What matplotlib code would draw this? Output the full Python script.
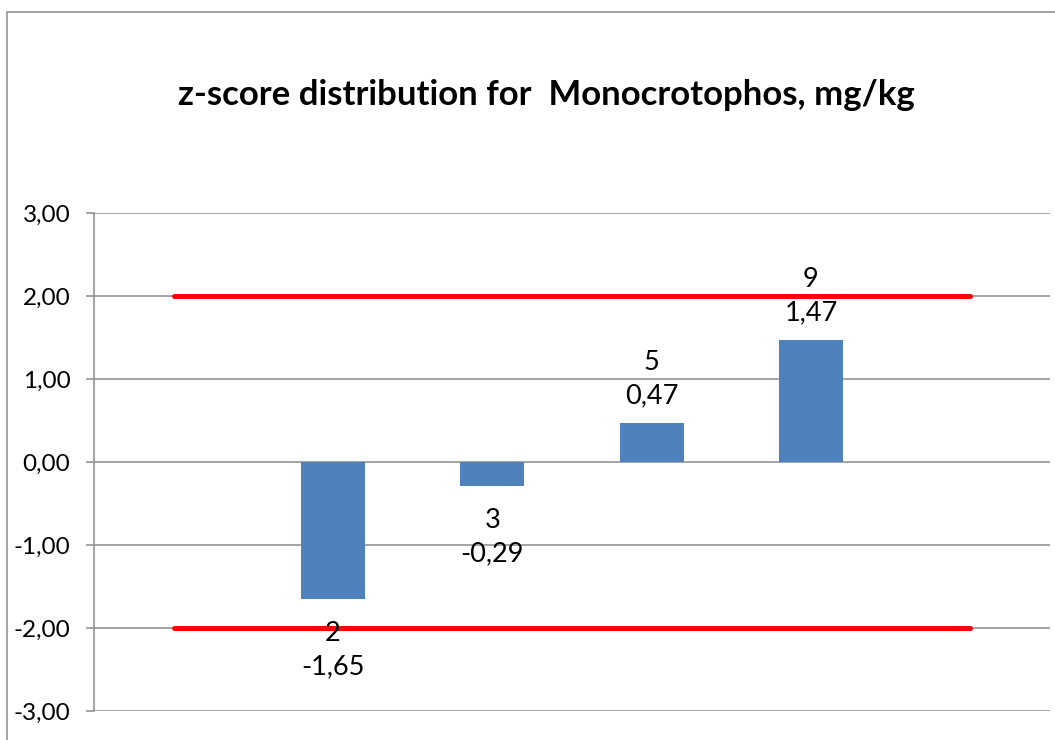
import matplotlib.pyplot as plt
import matplotlib.patches as mpatches
import numpy as np

plt.rcParams['font.family'] = ['Lato', 'DejaVu Sans']

# six category slots, the labs sit in the middle four
categories = ['', '2', '3', '5', '9', '']
z_scores = [np.nan, -1.65, -0.29, 0.47, 1.47, np.nan]
upper_limit = [2, 2, 2, 2, 2, 2]
lower_limit = [-2, -2, -2, -2, -2, -2]
y_ticks = [-3, -2, -1, 0, 1, 2, 3]

TITLE = 'z-score distribution for  Monocrotophos, mg/kg'
BAR_COLOR = '#4F81BD'
GRID_COLOR = '#8C8C8C'


def comma(v):
    return f'{v:.2f}'.replace('.', ',')


fig = plt.figure(figsize=(10.55, 7.40), dpi=100)
ax = fig.add_axes([94 / 1055, 29 / 740, 956 / 1055, 498 / 740])

x = np.arange(len(categories))
ax.bar(x, z_scores, width=0.4, color=BAR_COLOR, zorder=3)
ax.plot(x, upper_limit, color='#FF0000', lw=3.6, solid_capstyle='round', zorder=4)
ax.plot(x, lower_limit, color='#FF0000', lw=3.6, solid_capstyle='round', zorder=4)

for xi, cat, v in zip(x, categories, z_scores):
    if np.isnan(v):
        continue
    txt = f'{cat}\n{comma(v)}'
    if v >= 0:
        ax.annotate(txt, (xi, v), xytext=(0, 15), textcoords='offset pixels',
                    ha='center', va='bottom', fontsize=19.5, linespacing=1.4, zorder=5)
    else:
        ax.annotate(txt, (xi, v), xytext=(0, -22), textcoords='offset pixels',
                    ha='center', va='top', fontsize=19.5, linespacing=1.4, zorder=5)

ax.set_xlim(-0.5, len(categories) - 0.5)
ax.set_ylim(y_ticks[0], y_ticks[-1])
ax.set_yticks(y_ticks)
ax.set_yticklabels([comma(t) for t in y_ticks], fontsize=17.5)
ax.set_xticks([])
ax.tick_params(axis='y', length=6, width=1.1, color=GRID_COLOR, pad=11)
ax.grid(axis='y', color=GRID_COLOR, lw=1.1, zorder=0)
for side in ['top', 'right', 'bottom']:
    ax.spines[side].set_visible(False)
ax.spines['left'].set_color(GRID_COLOR)
ax.spines['left'].set_linewidth(1.1)

fig.text(546 / 1055, 1 - 95 / 740, TITLE, ha='center', va='center',
         fontsize=25, fontweight='bold')

# chart-area frame, cut off at right and bottom like the screenshot
fig.patches.append(mpatches.Rectangle((7 / 1055, -0.05), 1.1, 1 - 12 / 740 + 0.05,
                                      transform=fig.transFigure, fill=False,
                                      edgecolor=GRID_COLOR, lw=1.1))

plt.savefig('out.png', dpi=100)
